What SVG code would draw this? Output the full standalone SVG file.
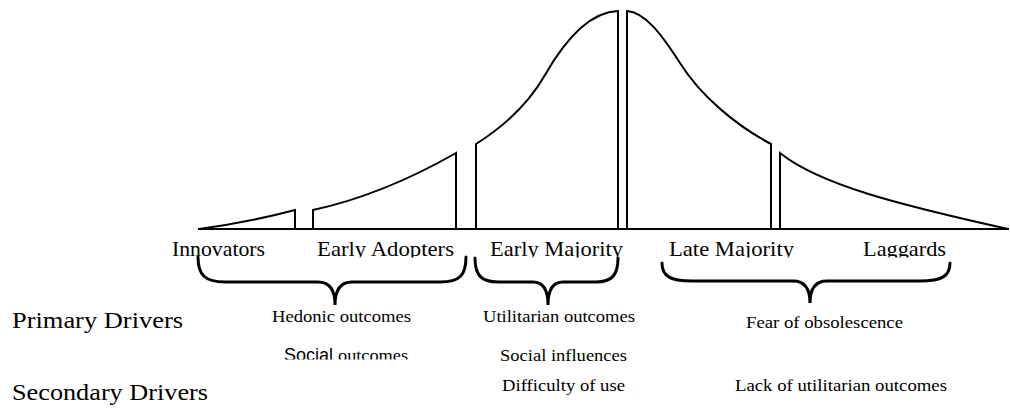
<svg xmlns="http://www.w3.org/2000/svg" width="1010" height="408" viewBox="0 0 1010 408">
<style>
.c{fill:none;stroke:#000;stroke-width:2;stroke-linejoin:miter}
.b{fill:none;stroke:#000;stroke-width:3;stroke-linecap:round}
.lab{font-family:'Liberation Serif','Times New Roman',Times,'Nimbus Roman','Tinos',serif;font-size:22px;fill:#000}
.sm{font-family:'Liberation Serif','Times New Roman',Times,'Nimbus Roman','Tinos',serif;font-size:17.5px;fill:#000}
.big{font-family:'Liberation Serif','Times New Roman',Times,'Nimbus Roman','Tinos',serif;font-size:23px;fill:#000}
.sans{font-family:'Liberation Sans',Arial,Helvetica,sans-serif;font-size:18px}
</style>
<defs>
<clipPath id="labclip"><rect x="0" y="0" width="1010" height="257.5"/></clipPath>
<clipPath id="socclip"><rect x="0" y="330" width="1010" height="29.5"/></clipPath>
</defs>
<g id="curve">
<line class="c" x1="198" y1="229" x2="1009" y2="229"/>
<path id="innovators-seg" class="c" d="M199,229 Q250,222 295,210 V229"/>
<path id="early-adopters-seg" class="c" d="M313,229 V210 C350,202 400,185 456,153 V229"/>
<path id="early-majority-seg" class="c" d="M476,229 V144 C495,132 525,110 545,75 C565,40 590,12 618,11 V229"/>
<path id="late-majority-seg" class="c" d="M627,229 V11 C645,12 662,35 680,63 C700,95 735,125 771,144 V229"/>
<path id="laggards-seg" class="c" d="M780,229 V153 C820,185 900,205 1008,229"/>
</g>
<g id="labels" clip-path="url(#labclip)">
<text class="lab" x="172" y="256" textLength="93" lengthAdjust="spacingAndGlyphs">Innovators</text>
<text class="lab" x="317" y="256" textLength="137" lengthAdjust="spacingAndGlyphs">Early Adopters</text>
<text class="lab" x="490" y="256" textLength="133" lengthAdjust="spacingAndGlyphs">Early Majority</text>
<text class="lab" x="669" y="256" textLength="125" lengthAdjust="spacingAndGlyphs">Late Majority</text>
<text class="lab" x="863" y="256" textLength="83" lengthAdjust="spacingAndGlyphs">Laggards</text>
</g>
<g id="braces">
<path id="brace1" class="b" d="M198,257 C198,275 205,282 225,282 L318,282 C330,282 335,290 335,305 C335,290 340,282 352,282 L440,282 C460,282 466,275 466,257"/>
<path id="brace2" class="b" d="M475,258 C475,275 481,282 498,282 L533,282 C543,282 548,290 548,305 C548,290 553,282 563,282 L596,282 C612,282 618,275 618,258"/>
<path id="brace3" class="b" d="M662,263 C662,276 670,281 692,281 L793,281 C805,281 810,289 810,303 C810,289 815,281 827,281 L920,281 C942,281 950,276 950,263"/>
</g>
<g id="side-labels">
<text class="big" x="12" y="328" textLength="171" lengthAdjust="spacingAndGlyphs">Primary Drivers</text>
<text class="big" x="12" y="400" textLength="196" lengthAdjust="spacingAndGlyphs">Secondary Drivers</text>
</g>
<g id="drivers-1">
<text class="sm" x="272" y="321.7" textLength="139" lengthAdjust="spacingAndGlyphs">Hedonic outcomes</text>
<g clip-path="url(#socclip)">
<text class="sm" x="284" y="361"><tspan class="sans">Social</tspan><tspan x="338" textLength="70" lengthAdjust="spacingAndGlyphs">outcomes</tspan></text>
</g>
</g>
<g id="drivers-2">
<text class="sm" x="483" y="321.7" textLength="152" lengthAdjust="spacingAndGlyphs">Utilitarian outcomes</text>
<text class="sm" x="500" y="361" textLength="127" lengthAdjust="spacingAndGlyphs">Social influences</text>
<text class="sm" x="502" y="391" textLength="123" lengthAdjust="spacingAndGlyphs">Difficulty of use</text>
</g>
<g id="drivers-3">
<text class="sm" x="746" y="328.3" textLength="157" lengthAdjust="spacingAndGlyphs">Fear of obsolescence</text>
<text class="sm" x="735" y="391" textLength="212" lengthAdjust="spacingAndGlyphs">Lack of utilitarian outcomes</text>
</g>
</svg>
